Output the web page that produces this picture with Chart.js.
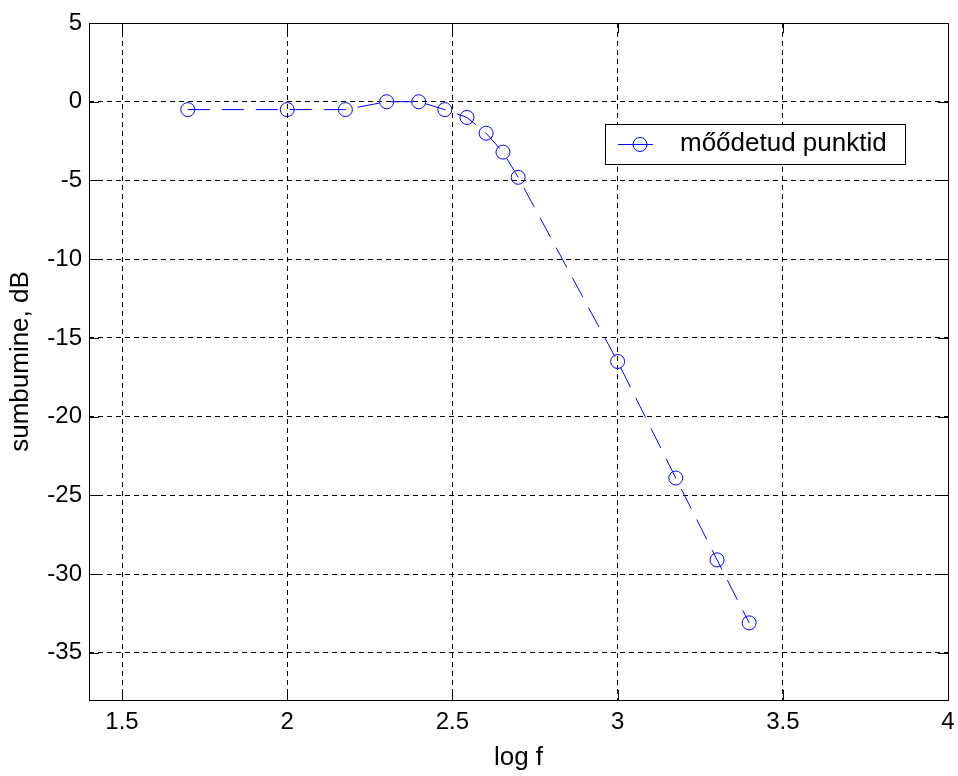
<!DOCTYPE html>
<html>
<head>
<meta charset="utf-8">
<title>sumbumine</title>
<script src="https://cdn.jsdelivr.net/npm/chart.js@4.4.0/dist/chart.umd.min.js"></script>
<style>
  body { margin: 0; background: #fff; }
  #wrap { width: 958px; height: 776px; }
</style>
</head>
<body>
<div id="wrap"><canvas id="chart" width="958" height="776"></canvas></div>
<script>
/* measured points: log f vs attenuation in dB */
var logF = [1.699, 2.0, 2.176, 2.301, 2.398, 2.477, 2.544, 2.602, 2.653, 2.699, 3.0, 3.176, 3.301, 3.398];
var sumbumine = [-0.5, -0.5, -0.5, 0, 0, -0.5, -1, -2, -3.2, -4.8, -16.5, -23.9, -29.1, -33.1];
var seriesLabel = 'mőődetud punktid';
var xTitle = 'log f';
var yTitle = 'sumbumine, dB';

var blue = '#0000ff';
var fontFamily = "'Liberation Sans', Arial, sans-serif";

Chart.defaults.font.family = fontFamily;
Chart.defaults.color = '#000';

var points = logF.map(function(x, i) { return {x: x, y: sumbumine[i]}; });

// plain number labels (2 not 2.0)
function plainTick(v) { return String(Math.round(v * 10) / 10); }

/* box around plot area + inward ticks, like matlab axes */
var axesBox = {
  id: 'axesBox',
  afterDraw: function(chart) {
    var ctx = chart.ctx;
    var a = chart.chartArea;
    var xs = chart.scales.x, ys = chart.scales.y;
    ctx.save();
    ctx.strokeStyle = '#000';
    ctx.lineWidth = 1;
    ctx.setLineDash([]);
    ctx.beginPath();
    xs.ticks.forEach(function(t) {
      var px = Math.round(xs.getPixelForValue(t.value)) + 0.5;
      ctx.moveTo(px, a.bottom); ctx.lineTo(px, a.bottom - 10);
      ctx.moveTo(px, a.top); ctx.lineTo(px, a.top + 10);
    });
    ys.ticks.forEach(function(t) {
      var py = Math.round(ys.getPixelForValue(t.value)) + 0.5;
      ctx.moveTo(a.left, py); ctx.lineTo(a.left + 10, py);
      ctx.moveTo(a.right, py); ctx.lineTo(a.right - 10, py);
    });
    ctx.stroke();
    ctx.strokeRect(Math.round(a.left) + 0.5, Math.round(a.top) + 0.5,
                   Math.round(a.right - a.left), Math.round(a.bottom - a.top));

    // legend box
    var lx = 605, ly = 124, lw = 300, lh = 40;
    ctx.fillStyle = '#fff';
    ctx.fillRect(lx, ly, lw, lh);
    ctx.strokeRect(lx + 0.5, ly + 0.5, lw, lh);
    ctx.strokeStyle = blue;
    ctx.beginPath();
    ctx.moveTo(lx + 13, ly + 20.5); ctx.lineTo(lx + 48, ly + 20.5);
    ctx.stroke();
    ctx.beginPath();
    ctx.arc(lx + 35, ly + 20.5, 7, 0, Math.PI * 2);
    ctx.stroke();
    ctx.fillStyle = '#000';
    ctx.font = '26px ' + fontFamily;
    ctx.textBaseline = 'middle';
    ctx.fillText(seriesLabel, lx + 75, ly + 20);
    ctx.restore();
  }
};

new Chart(document.getElementById('chart'), {
  type: 'scatter',
  data: {
    datasets: [{
      label: seriesLabel,
      data: points,
      showLine: true,
      borderColor: blue,
      borderWidth: 1,
      borderDash: [22, 12],
      pointStyle: 'circle',
      pointRadius: 7,
      pointBorderColor: blue,
      pointBackgroundColor: 'rgba(0,0,0,0)',
      pointBorderWidth: 1
    }]
  },
  options: {
    responsive: false,
    animation: false,
    layout: { padding: { top: 23, right: 10, left: 0, bottom: 0 } },
    plugins: { legend: { display: false }, tooltip: { enabled: false } },
    scales: {
      x: {
        type: 'linear',
        min: 1.4,
        max: 4,
        afterFit: function(scale) {
          scale.height = 76;
          scale.paddingLeft = 0;
          scale.paddingRight = 0;
        },
        ticks: { stepSize: 0.5, includeBounds: false, padding: 8, font: { size: 24 }, color: '#000', callback: plainTick },
        grid: { color: '#000', lineWidth: 1, drawTicks: false },
        border: { display: false, dash: [5, 4] },
        title: { display: true, text: xTitle, font: { size: 26 }, color: '#000', padding: { top: 0, bottom: 3 } }
      },
      y: {
        type: 'linear',
        min: -38,
        max: 5,
        afterFit: function(scale) {
          scale.width = 89;
          scale.paddingTop = 0;
          scale.paddingBottom = 0;
        },
        ticks: { stepSize: 5, includeBounds: false, padding: 7, font: { size: 24 }, color: '#000', callback: plainTick },
        grid: { color: '#000', lineWidth: 1, drawTicks: false },
        border: { display: false, dash: [5, 4] },
        title: { display: true, text: yTitle, font: { size: 26 }, color: '#000', padding: { top: 5, bottom: 0 } }
      }
    }
  },
  plugins: [axesBox]
});
</script>
</body>
</html>
